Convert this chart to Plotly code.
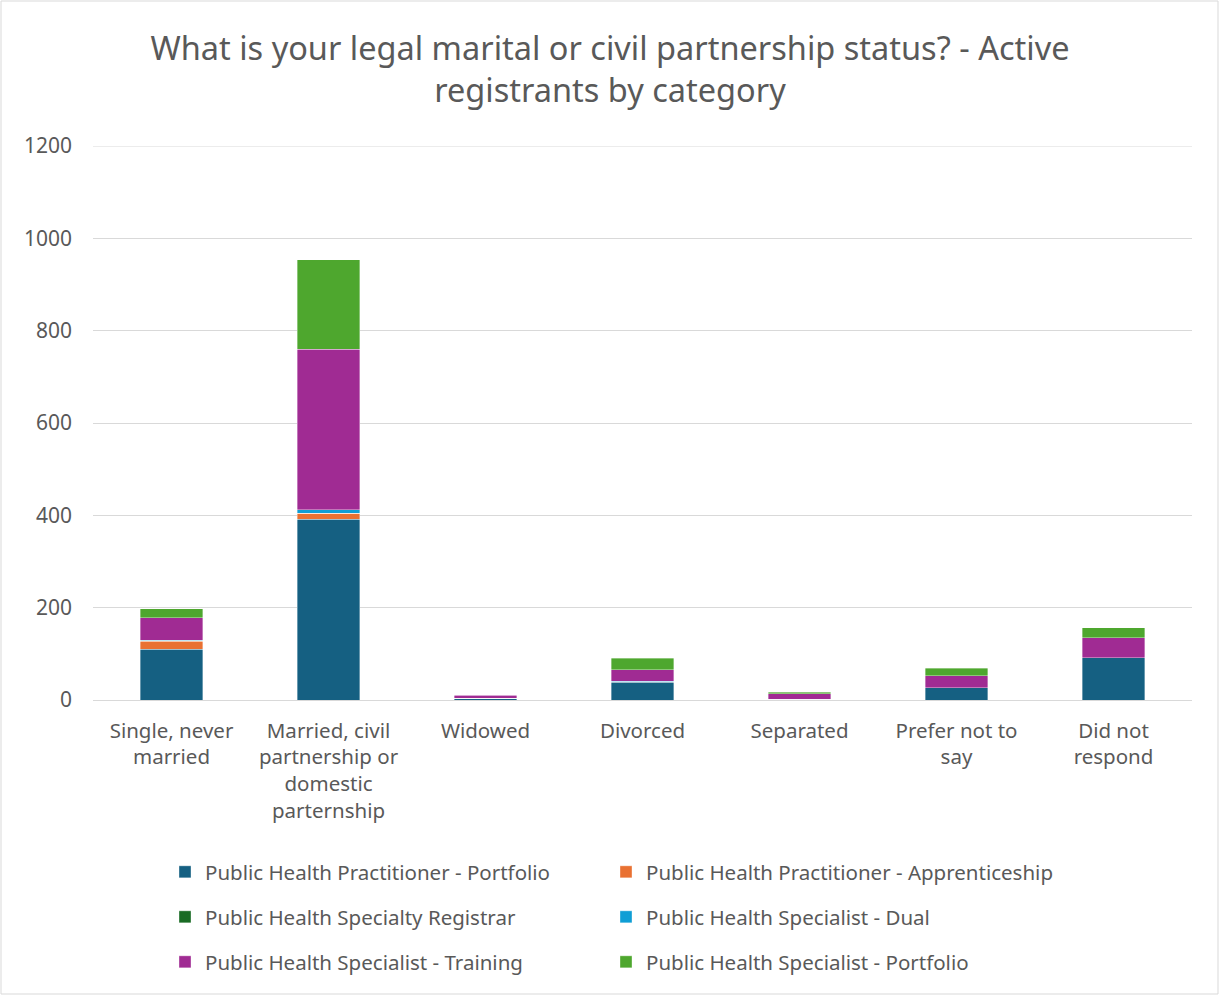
import plotly.graph_objects as go

categories = ["Single, never<br>married", "Married, civil<br>partnership or<br>domestic<br>parternship",
              "Widowed", "Divorced", "Separated", "Prefer not to<br>say", "Did not<br>respond"]

ph_practitioner_portfolio = [110, 392, 4, 39, 2, 27, 92]
ph_practitioner_apprenticeship = [17, 12, 0, 1, 0, 0, 0]
ph_specialty_registrar = [1, 1, 0, 0, 0, 0, 0]
ph_specialist_dual = [1, 7, 0, 1, 0, 0, 0]
ph_specialist_training = [49, 348, 6, 24, 12, 26, 43]
ph_specialist_portfolio = [20, 194, 1, 25, 3, 16, 21]

series_names = ["Public Health Practitioner - Portfolio", "Public Health Practitioner - Apprenticeship",
                "Public Health Specialty Registrar", "Public Health Specialist - Dual",
                "Public Health Specialist - Training", "Public Health Specialist - Portfolio"]
series_values = [ph_practitioner_portfolio, ph_practitioner_apprenticeship, ph_specialty_registrar,
                 ph_specialist_dual, ph_specialist_training, ph_specialist_portfolio]
series_colors = ["#156082", "#E97132", "#196B24", "#0F9ED5", "#A02B93", "#4EA72E"]

font_family = "Noto Sans, Open Sans, sans-serif"
gray = "#595959"

fig = go.Figure()
legend_layout = {}
for i, (name, vals, color) in enumerate(zip(series_names, series_values, series_colors)):
    key = "legend" if i == 0 else f"legend{i + 1}"
    fig.add_trace(go.Bar(
        x=categories, y=vals, name=name, legend=key, showlegend=True,
        marker=dict(color=color, line=dict(color="rgba(255,255,255,0.6)", width=0.6)),
    ))
    col, row = i % 2, i // 2
    px_x = 165 + col * 441
    px_y = 872 + row * 45
    legend_layout[key] = dict(
        orientation="h", xref="paper", yref="paper", xanchor="left", yanchor="middle",
        x=(px_x - 93) / 1099, y=(700 - px_y) / 554, visible=True,
        font=dict(family=font_family, size=20.5, color=gray),
        bgcolor="rgba(0,0,0,0)", itemwidth=30,
    )

fig.update_layout(
    width=1220, height=996,
    margin=dict(l=93, r=28, t=146, b=296),
    paper_bgcolor="white", plot_bgcolor="white",
    barmode="stack", bargap=0.6, showlegend=True,
    font=dict(family=font_family, color=gray),
    title=dict(
        text="What is your legal marital or civil partnership status? - Active<br>registrants by category",
        x=0.5, xanchor="center", xref="container", y=1 - 60 / 996, yanchor="middle", yref="container",
        font=dict(family=font_family, size=32.5, color=gray),
    ),
    xaxis=dict(
        showgrid=False, showline=True, linecolor="#d9d9d9", linewidth=1,
        tickfont=dict(family=font_family, size=20.5, color=gray), ticks="", ticklabelstandoff=12,
    ),
    yaxis=dict(
        range=[0, 1200], tickvals=[0, 200, 400, 600, 800, 1000, 1200], showgrid=True,
        gridcolor="#d9d9d9", gridwidth=1,
        zeroline=False, showline=False,
        tickfont=dict(family=font_family, size=21, color=gray), ticks="", ticklabelstandoff=20,
    ),
    shapes=[
        dict(type="line", xref="paper", yref="y", x0=0, x1=1, y0=1200, y1=1200,
             line=dict(color="#d9d9d9", width=1), layer="below"),
        dict(type="rect", xref="paper", yref="paper",
             x0=(1 - 93) / 1099, x1=(1218 - 93) / 1099,
             y0=(700 - 994) / 554, y1=(700 - 1) / 554,
             line=dict(color="#d9d9d9", width=1), fillcolor="rgba(0,0,0,0)", layer="below"),
    ],
    **legend_layout,
)

fig.write_html("out.html")
